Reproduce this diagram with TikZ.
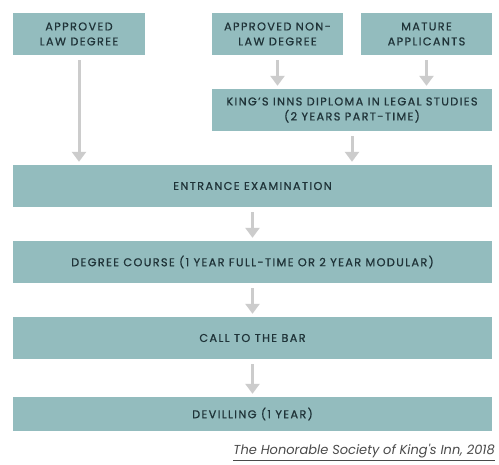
\documentclass[tikz,border=0pt]{standalone}
\usepackage{fontspec}
\setmainfont{Poppins}[LetterSpace=12,FakeBold=0.8]
\newfontfamily\capfont{Poppins}[LetterSpace=0]
\usetikzlibrary{arrows.meta,calc}
\definecolor{boxfill}{HTML}{93BCBE}
\definecolor{boxtext}{HTML}{1F3338}
\definecolor{arrowgray}{HTML}{CCCCCC}
\definecolor{captext}{HTML}{4A4A4A}
\begin{document}
\begin{tikzpicture}[x=1pt,y=-1pt,
  box/.style={rectangle, fill=boxfill, text=boxtext, inner sep=0pt, align=center,
    font=\fontsize{11.3}{15}\selectfont},
  flow/.style={draw=arrowgray, line width=3pt,
    -{Triangle[width=14pt,length=10pt]}, shorten <=5pt, shorten >=3pt}]
\useasboundingbox (0,0) rectangle (499,465);
\fill[white] (0,0) rectangle (499,465);
\node[box, minimum width=132pt, minimum height=42pt] (law) at (79,34) {APPROVED\\LAW DEGREE};
\node[box, minimum width=131pt, minimum height=42pt] (nonlaw) at (277.5,34) {APPROVED NON-\\LAW DEGREE};
\node[box, minimum width=131pt, minimum height=42pt] (mature) at (426.5,34) {MATURE\\APPLICANTS};
\node[box, minimum width=280pt, minimum height=42pt] (kings) at (352,110) {KING'S INNS DIPLOMA IN LEGAL STUDIES\\(2 YEARS PART-TIME)};
\node[box, minimum width=479pt, minimum height=42pt] (entrance) at (252.5,186) {ENTRANCE EXAMINATION};
\node[box, minimum width=479pt, minimum height=42pt] (degree) at (252.5,262) {DEGREE COURSE (1 YEAR FULL-TIME OR 2 YEAR MODULAR)};
\node[box, minimum width=479pt, minimum height=42pt] (bar) at (252.5,338) {CALL TO THE BAR};
\node[box, minimum width=479pt, minimum height=34pt] (devil) at (252.5,414) {DEVILLING (1 YEAR)};
\node[anchor=base east, text=captext, inner sep=0pt, font=\capfont\itshape\fontsize{13}{15}\selectfont] (cap) at (495,455) {\underline{The Honorable Society of King's Inn, 2018}};
\draw[flow] (law.south) -- (law.south |- entrance.north);
\draw[flow] (nonlaw.south) -- (nonlaw.south |- kings.north);
\draw[flow] (mature.south) -- (mature.south |- kings.north);
\draw[flow] (kings.south) -- (kings.south |- entrance.north);
\draw[flow] (entrance.south) -- (degree.north);
\draw[flow] (degree.south) -- (bar.north);
\draw[flow] (bar.south) -- (devil.north);
\end{tikzpicture}
\end{document}
